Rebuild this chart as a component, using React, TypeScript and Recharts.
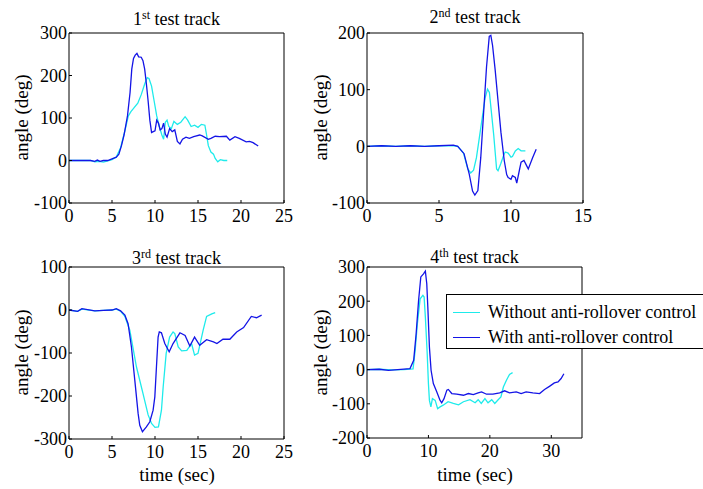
import React from "react";
import { LineChart, Line, XAxis, YAxis } from "recharts";

const FONT = "'Liberation Serif', 'Times New Roman', Times, serif";
const CYAN = "#1EEBEB";
const BLUE = "#1414E6";

// 1st test track
const t1Without = [0, 1, 2, 2.5, 3, 3.5, 4, 4.5, 5, 5.5, 6, 6.5, 6.9, 7.2, 7.6, 8.0, 8.4, 8.8, 9.1, 9.3, 9.6, 9.9, 10.2, 10.5, 10.8, 11.0, 11.2, 11.4, 11.6, 11.9, 12.2, 12.6, 13.0, 13.5, 13.8, 14.2, 14.6, 15.0, 15.4, 15.8, 16.0, 16.2, 16.5, 16.8, 17.0, 17.3, 17.6, 18.0, 18.4];
const a1Without = [0, 0, 0, 0, -3, -2, -4, -1, 2, 8, 30, 70, 105, 115, 125, 135, 155, 180, 195, 193, 175, 140, 105, 80, 60, 50, 90, 95, 80, 75, 92, 85, 90, 103, 95, 80, 83, 78, 85, 83, 60, 35, 20, 15, 5, -3, 2, 0, 0];
const t1With = [0, 1, 2, 2.5, 3, 3.3, 3.6, 4, 4.5, 5, 5.5, 5.8, 6.1, 6.4, 6.8, 7.1, 7.3, 7.5, 7.7, 7.9, 8.1, 8.4, 8.6, 8.8, 9.0, 9.2, 9.4, 9.6, 9.8, 10.0, 10.2, 10.4, 10.6, 10.8, 11.0, 11.2, 11.4, 11.7, 12.0, 12.3, 12.6, 12.9, 13.2, 13.6, 14.0, 14.5, 15.2, 15.5, 16.2, 16.5, 17.0, 17.5, 18.3, 18.7, 19.3, 19.8, 20.6, 21.0, 21.4, 22.0];
const a1With = [0, 0, 0, 0, -2, 1, -2, 0, 0, 4, 8, 15, 35, 60, 105, 160, 215, 240, 248, 252, 244, 243, 235, 215, 180, 140, 95, 66, 68, 70, 95, 88, 72, 75, 88, 62, 55, 75, 68, 72, 45, 39, 50, 55, 52, 56, 60, 58, 50, 52, 57, 56, 57, 48, 56, 52, 44, 45, 42, 34];

// 2nd test track
const t2Without = [0, 1, 2, 3, 4, 5, 6, 6.3, 6.7, 7.0, 7.2, 7.4, 7.6, 7.8, 8.0, 8.2, 8.37, 8.5, 8.6, 8.8, 9.0, 9.1, 9.3, 9.5, 9.6, 9.8, 10.0, 10.1, 10.3, 10.5, 10.7, 10.9, 11.0];
const a2Without = [0, 1, 0, 1, 0, 1, 1, 0, -12, -40, -47, -42, -20, 15, 50, 85, 101, 95, 70, 20, -40, -43, -30, -15, -10, -12, -19, -18, -8, -4, -8, -8, -8];
const t2With = [0, 1, 2, 3, 4, 5, 6, 6.3, 6.74, 7.1, 7.33, 7.49, 7.7, 7.9, 8.1, 8.3, 8.49, 8.6, 8.72, 8.9, 9.1, 9.3, 9.53, 9.7, 9.8, 10.0, 10.1, 10.3, 10.4, 10.6, 10.7, 10.9, 11.1, 11.2, 11.5, 11.75];
const a2With = [0, 1, 0, 1, 0, 1, 2, 0, -13, -49, -79, -86, -78, -20, 60, 140, 194, 196, 178, 135, 80, 25, -25, -50, -55, -58, -52, -55, -65, -40, -28, -25, -35, -40, -20, -5];

// 3rd test track
const t3Without = [0, 1, 1.5, 3, 4, 5, 5.5, 6, 6.5, 7.07, 7.84, 8.6, 9.2, 9.6, 10.0, 10.4, 10.75, 10.95, 11.3, 11.7, 12.1, 12.3, 12.7, 13.1, 13.7, 14.25, 14.6, 15.0, 15.6, 16.0, 16.6, 17.0];
const a3Without = [0, -3, 2, -2, -1, 0, 2, -3, -15, -47, -132, -194, -244, -264, -273, -272, -233, -179, -101, -63, -51, -55, -86, -95, -94, -78, -105, -101, -47, -15, -9, -6];
const t3With = [0, 1, 1.5, 3, 4, 5, 5.5, 6, 6.5, 6.87, 7.26, 7.65, 8.04, 8.23, 8.54, 9.0, 9.4, 9.78, 9.98, 10.17, 10.36, 10.5, 10.75, 11.14, 11.65, 12.1, 12.9, 13.5, 14.05, 14.6, 15.2, 16.0, 16.8, 17.2, 17.9, 18.7, 19.5, 20.3, 21.2, 21.8, 22.4];
const a3With = [0, -3, 3, -2, -1, 0, 3, -2, -12, -32, -86, -163, -241, -268, -283, -272, -260, -233, -202, -132, -63, -51, -53, -78, -97, -78, -53, -59, -84, -63, -82, -69, -74, -78, -68, -68, -51, -41, -15, -18, -12];

// 4th test track
const t4Without = [0, 2, 4, 6, 7.5, 7.84, 8.2, 8.65, 9.1, 9.3, 9.5, 9.8, 10.0, 10.16, 10.4, 10.65, 11.1, 11.5, 11.9, 12.4, 13.2, 14.05, 14.9, 15.7, 16.76, 17.6, 18.1, 18.6, 19.2, 19.7, 20.3, 20.8, 21.35, 21.8, 22.2, 22.7, 23.2, 23.7];
const a4Without = [0, 1, -1, 0, 2, 56, 134, 207, 217, 212, 154, 47, -41, -90, -109, -85, -90, -114, -109, -104, -94, -99, -103, -94, -88, -97, -88, -99, -85, -97, -88, -99, -88, -80, -51, -31, -14, -9];
const t4With = [0, 2, 3.5, 5, 7.0, 7.6, 8.0, 8.4, 8.76, 9.2, 9.5, 9.73, 9.9, 10.16, 10.43, 10.8, 11.35, 11.9, 12.16, 12.54, 13.0, 13.24, 13.8, 14.6, 15.7, 16.5, 17.3, 18.1, 18.65, 19.46, 20.5, 21.6, 22.4, 23.2, 24.3, 25.1, 25.9, 27.0, 28.1, 28.9, 29.7, 30.5, 31.1, 31.6, 32.05];
const a4With = [0, 1, -2, 0, 3, 27, 105, 203, 271, 280, 288, 251, 183, 66, -2, -41, -65, -90, -97, -85, -60, -58, -70, -72, -75, -70, -73, -68, -65, -72, -72, -68, -62, -68, -65, -70, -65, -68, -70, -58, -49, -39, -36, -26, -12];

const zip = (t: number[], a: number[]) => t.map((x, i) => ({ t: x, a: a[i] }));

const tickStyle = { fill: "#000", fontSize: 18, style: { fontFamily: FONT } };

type PlotProps = {
  left: number;
  top: number;
  width: number;
  height: number;
  margin: { top: number; right: number; bottom: number; left: number };
  yWidth: number;
  xHeight: number;
  xDomain: [number, number];
  xTicks: number[];
  yDomain: [number, number];
  yTicks: number[];
  without: { t: number; a: number }[];
  withCtrl: { t: number; a: number }[];
};

function TrackPlot(p: PlotProps) {
  return (
    <div style={{ position: "absolute", left: p.left, top: p.top, fontFamily: FONT }}>
      <LineChart width={p.width} height={p.height} margin={p.margin} style={{ fontFamily: FONT }}>
        <XAxis
          xAxisId="b"
          dataKey="t"
          type="number"
          domain={p.xDomain}
          ticks={p.xTicks}
          interval={0}
          allowDataOverflow
          height={p.xHeight}
          tickSize={-3}
          tickMargin={9}
          stroke="#000"
          tick={tickStyle}
        />
        <XAxis
          xAxisId="top"
          orientation="top"
          type="number"
          domain={p.xDomain}
          ticks={p.xTicks}
          interval={0}
          allowDataOverflow
          height={1}
          tickSize={-3}
          stroke="#000"
          tick={false}
        />
        <YAxis
          yAxisId="l"
          type="number"
          domain={p.yDomain}
          ticks={p.yTicks}
          interval={0}
          allowDataOverflow
          width={p.yWidth}
          tickSize={-3}
          tickMargin={5}
          stroke="#000"
          tick={tickStyle}
        />
        <YAxis
          yAxisId="r"
          orientation="right"
          type="number"
          domain={p.yDomain}
          ticks={p.yTicks}
          interval={0}
          allowDataOverflow
          width={1}
          tickSize={-3}
          stroke="#000"
          tick={false}
        />
        <Line xAxisId="b" yAxisId="l" data={p.without} dataKey="a" type="linear" stroke={CYAN} strokeWidth={1.3} dot={false} isAnimationActive={false} />
        <Line xAxisId="b" yAxisId="l" data={p.withCtrl} dataKey="a" type="linear" stroke={BLUE} strokeWidth={1.3} dot={false} isAnimationActive={false} />
      </LineChart>
    </div>
  );
}

const text: React.CSSProperties = { position: "absolute", fontFamily: FONT, color: "#000", whiteSpace: "nowrap", lineHeight: 1 };

function Title({ x, w, y, n, sup }: { x: number; w: number; y: number; n: string; sup: string }) {
  return (
    <div style={{ ...text, left: x, width: w, top: y, textAlign: "center", fontSize: 18 }}>
      {n}
      <sup style={{ fontSize: 12, verticalAlign: "6px", lineHeight: 0 }}>{sup}</sup> test track
    </div>
  );
}

function YLabel({ cx, cy }: { cx: number; cy: number }) {
  return (
    <div style={{ ...text, left: cx - 60, top: cy - 9, width: 120, textAlign: "center", fontSize: 19, transform: "rotate(-90deg)" }}>
      angle (deg)
    </div>
  );
}

function XLabel({ cx, cy }: { cx: number; cy: number }) {
  return (
    <div style={{ ...text, left: cx - 60, top: cy - 9, width: 120, textAlign: "center", fontSize: 19 }}>time (sec)</div>
  );
}

export default function App() {
  return (
    <div style={{ position: "absolute", left: 0, top: 0, width: 703, height: 489, overflow: "hidden", background: "#fff", fontFamily: FONT }}>
      <TrackPlot
        left={0} top={0} width={300} height={230}
        margin={{ top: 32, right: 15, bottom: 0, left: 0 }}
        yWidth={69} xHeight={27}
        xDomain={[0, 25]} xTicks={[0, 5, 10, 15, 20, 25]}
        yDomain={[-100, 300]} yTicks={[-100, 0, 100, 200, 300]}
        without={zip(t1Without, a1Without)} withCtrl={zip(t1With, a1With)}
      />
      <TrackPlot
        left={300} top={0} width={300} height={230}
        margin={{ top: 32, right: 16, bottom: 0, left: 0 }}
        yWidth={67} xHeight={27}
        xDomain={[0, 15]} xTicks={[0, 5, 10, 15]}
        yDomain={[-100, 200]} yTicks={[-100, 0, 100, 200]}
        without={zip(t2Without, a2Without)} withCtrl={zip(t2With, a2With)}
      />
      <TrackPlot
        left={0} top={240} width={300} height={225}
        margin={{ top: 26, right: 15, bottom: 0, left: 0 }}
        yWidth={69} xHeight={26}
        xDomain={[0, 25]} xTicks={[0, 5, 10, 15, 20, 25]}
        yDomain={[-300, 100]} yTicks={[-300, -200, -100, 0, 100]}
        without={zip(t3Without, a3Without)} withCtrl={zip(t3With, a3With)}
      />
      <TrackPlot
        left={300} top={240} width={300} height={225}
        margin={{ top: 26, right: 17, bottom: 0, left: 0 }}
        yWidth={67} xHeight={27}
        xDomain={[0, 35]} xTicks={[0, 10, 20, 30]}
        yDomain={[-200, 300]} yTicks={[-200, -100, 0, 100, 200, 300]}
        without={zip(t4Without, a4Without)} withCtrl={zip(t4With, a4With)}
      />

      <Title x={69} w={215} y={10} n="1" sup="st" />
      <Title x={367} w={216} y={8} n="2" sup="nd" />
      <Title x={69} w={215} y={249} n="3" sup="rd" />
      <Title x={367} w={215} y={248} n="4" sup="th" />

      <YLabel cx={21} cy={117} />
      <YLabel cx={320} cy={117} />
      <YLabel cx={21} cy={352} />
      <YLabel cx={320} cy={352} />

      <XLabel cx={177} cy={474} />
      <XLabel cx={475} cy={474} />

      <div style={{ position: "absolute", left: 446, top: 294, width: 290, height: 55, boxSizing: "border-box", border: "1px solid #000", background: "#fff" }}>
        <div style={{ position: "absolute", left: 6, top: 17, width: 27, height: 0, borderTop: `1.5px solid ${CYAN}` }} />
        <div style={{ ...text, left: 41, top: 8, fontSize: 18 }}>Without anti-rollover control</div>
        <div style={{ position: "absolute", left: 6, top: 42, width: 27, height: 0, borderTop: `1.5px solid ${BLUE}` }} />
        <div style={{ ...text, left: 41, top: 33, fontSize: 18 }}>With anti-rollover control</div>
      </div>
    </div>
  );
}
